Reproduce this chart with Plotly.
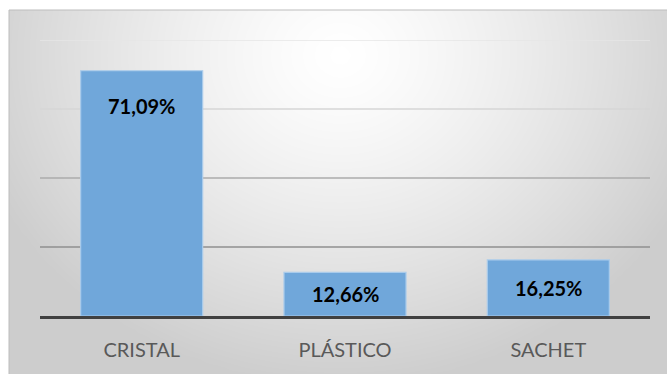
import numpy as np
import plotly.graph_objects as go

# Data
categories = ["CRISTAL", "PLÁSTICO", "SACHET"]
values = [71.09, 12.66, 16.25]
grid_values = [20, 40, 60, 80]

# Styling
W, H = 667, 374
BOX_L, BOX_T = 9, 10          # chart box top-left corner (px)
PLOT_L, PLOT_R = 40, 650      # plot area horizontal extent (px)
PLOT_T, PLOT_B = 40, 316      # plot area vertical extent (px)
BAR_COLOR = "#70a7da"
BAR_EDGE = "#a9cbeb"
GRID_COLORS = ["#8f8f8f", "#ababab", "#d6d6d6", "#e6e6e6"]
# label placement within each bar (fraction of bar height)
label_pos = [0.857, 0.5, 0.5]

fig = go.Figure()

# Soft radial-gradient backdrop for the chart box
gx = np.linspace(BOX_L, W, 80)
gy = np.linspace(BOX_T, H, 50)
X, Y = np.meshgrid(gx, gy)
d = np.sqrt(((X - 340) / 380.0) ** 2 + ((Y - 55) / 330.0) ** 2)
shade = 255 - 50 * np.clip(d, 0, 1) ** 1.3
fig.add_trace(go.Heatmap(
    x=gx, y=gy, z=shade, zmin=0, zmax=255, zsmooth="best",
    colorscale=[[0, "rgb(0,0,0)"], [1, "rgb(255,255,255)"]],
    showscale=False, hoverinfo="skip", xaxis="x", yaxis="y",
))

# Bars
fig.add_trace(go.Bar(
    x=categories, y=values, xaxis="x2", yaxis="y2",
    marker=dict(color=BAR_COLOR, line=dict(color=BAR_EDGE, width=1.2)),
    hoverinfo="skip",
))

# Value labels
for c, v, p in zip(categories, values, label_pos):
    fig.add_annotation(
        x=c, y=v * p, xref="x2", yref="y2",
        text=f"<b>{v:.2f}%</b>".replace(".", ","),
        showarrow=False,
        font=dict(family="Lato", size=20, color="#000000"),
    )

# Gridlines with graded tones
for g, col in zip(grid_values, GRID_COLORS):
    fig.add_shape(
        type="line", xref="x2", yref="y2",
        x0=-0.5, x1=len(categories) - 0.5, y0=g, y1=g,
        line=dict(color=col, width=1.3), layer="below",
    )

# Thin border around the chart box
fig.add_shape(
    type="rect", xref="paper", yref="paper",
    x0=BOX_L / W, x1=1.002, y0=-0.01, y1=1 - BOX_T / H,
    line=dict(color="#bdbdbd", width=1),
)

fig.update_layout(
    width=W, height=H,
    margin=dict(l=0, r=0, t=0, b=0),
    paper_bgcolor="white",
    plot_bgcolor="rgba(0,0,0,0)",
    showlegend=False,
    bargap=0.4,
    xaxis=dict(domain=[BOX_L / W, 1], range=[BOX_L, W], visible=False,
               fixedrange=True),
    yaxis=dict(domain=[0, 1 - BOX_T / H], range=[H, BOX_T], visible=False,
               fixedrange=True),
    xaxis2=dict(
        domain=[PLOT_L / W, PLOT_R / W], anchor="y2",
        range=[-0.5, len(categories) - 0.5],
        showgrid=False, showline=True, linecolor="#404040", linewidth=3,
        ticks="", ticklabelstandoff=14,
        tickfont=dict(family="Lato", size=20, color="#595959"),
    ),
    yaxis2=dict(
        domain=[1 - PLOT_B / H, 1 - PLOT_T / H], anchor="x2",
        range=[0, 80], showgrid=False, zeroline=False,
        showticklabels=False, ticks="",
    ),
)

fig.write_html("out.html")
